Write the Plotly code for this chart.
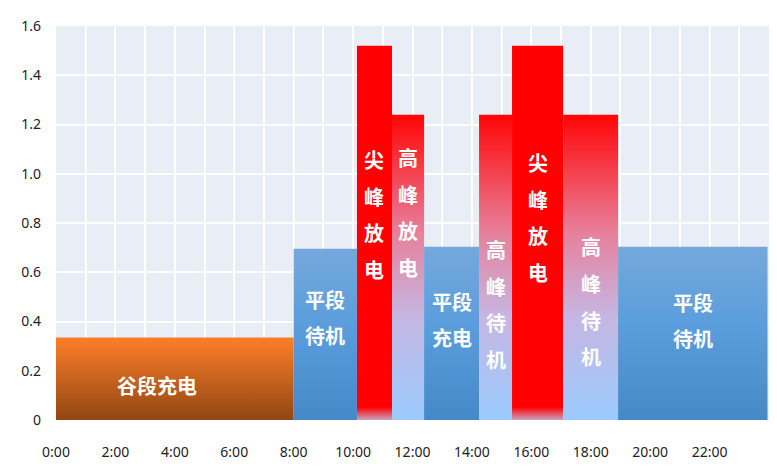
import plotly.graph_objects as go

# Bloques de operación (horas de inicio / fin y potencia)
starts = [0, 8, 10.13, 11.31, 12.39, 14.24, 15.35, 17.07, 18.92]
ends = [8, 10.13, 11.31, 12.39, 14.24, 15.35, 17.07, 18.92, 23.95]
values = [0.335, 0.695, 1.52, 1.24, 0.704, 1.24, 1.52, 1.24, 0.704]
kinds = ['valley', 'flat', 'peak', 'high', 'flat', 'high', 'peak', 'high', 'flat']
labels = [['谷段充电'], ['平段', '待机'], ['尖', '峰', '放', '电'], ['高', '峰', '放', '电'],
          ['平段', '充电'], ['高', '峰', '待', '机'], ['尖', '峰', '放', '电'],
          ['高', '峰', '待', '机'], ['平段', '待机']]

x_tickvals = [0, 2, 4, 6, 8, 10, 12, 14, 16, 18, 20, 22]
x_ticktext = ['0:00', '2:00', '4:00', '6:00', '8:00', '10:00', '12:00', '14:00',
              '16:00', '18:00', '20:00', '22:00']
y_tickvals = [0, 0.2, 0.4, 0.6, 0.8, 1.0, 1.2, 1.4, 1.6]
y_ticktext = ['0', '0.2', '0.4', '0.6', '0.8', '1.0', '1.2', '1.4', '1.6']

# Estilos de cada tipo de bloque (gradiente de abajo hacia arriba)
gradients = {
    'valley': [[0, '#8c4413'], [1, '#f97c27']],
    'flat': [[0, '#4588c8'], [0.55, '#5a9ddd'], [1, '#74a8dc']],
    'peak': [[0, '#b8d4fa'], [0.045, '#ff0000'], [1, '#ff0000']],
    'high': [[0, '#99ccff'], [0.35, '#c6b6e2'], [0.62, '#e7809c'], [1, '#ff0606']],
}
# posición vertical del primer renglón de cada etiqueta y separación
label_top = [0.141, 0.491, 1.058, 1.066, 0.483, 0.692, 1.046, 0.704, 0.479]
label_step = 0.149
label_xshift = [-0.6, 0, 0, 0, 0, 0, 0, 0, 0]

fig = go.Figure()

for s, e, v, k in zip(starts, ends, values, kinds):
    fig.add_trace(go.Scatter(
        x=[s, e, e, s, s], y=[0, 0, v, v, 0],
        mode='lines', fill='toself',
        fillgradient=dict(type='vertical', colorscale=gradients[k], start=0, stop=v),
        line=dict(width=0, color='rgba(0,0,0,0)'),
        hoverinfo='skip', showlegend=False,
    ))

for i, lines in enumerate(labels):
    xc = (starts[i] + ends[i]) / 2 + label_xshift[i]
    for j, txt in enumerate(lines):
        fig.add_annotation(
            x=xc, y=label_top[i] - j * label_step, text='<b>%s</b>' % txt,
            showarrow=False, xanchor='center', yanchor='middle',
            font=dict(family='Noto Sans CJK SC', size=20, color='white'),
        )

# la página tiene 8px de margen en el body, se compensa en el tamaño
fig.update_layout(
    width=769, height=464,
    margin=dict(l=48, r=8, t=14, b=52),
    paper_bgcolor='white', plot_bgcolor='#e9edf6',
    showlegend=False, hovermode=False,
    font=dict(family='Noto Sans', size=14, color='#222'),
    xaxis=dict(
        range=[0, 24], tickvals=x_tickvals, ticktext=x_ticktext,
        showgrid=True, gridcolor='white', gridwidth=2,
        minor=dict(dtick=1, showgrid=True, gridcolor='white', gridwidth=2),
        zeroline=False, ticklabelstandoff=22,
    ),
    yaxis=dict(
        range=[0, 1.6], tickvals=y_tickvals, ticktext=y_ticktext,
        showgrid=True, gridcolor='white', gridwidth=2,
        zeroline=False, ticklabelstandoff=14,
    ),
)

fig.write_html("out.html")
